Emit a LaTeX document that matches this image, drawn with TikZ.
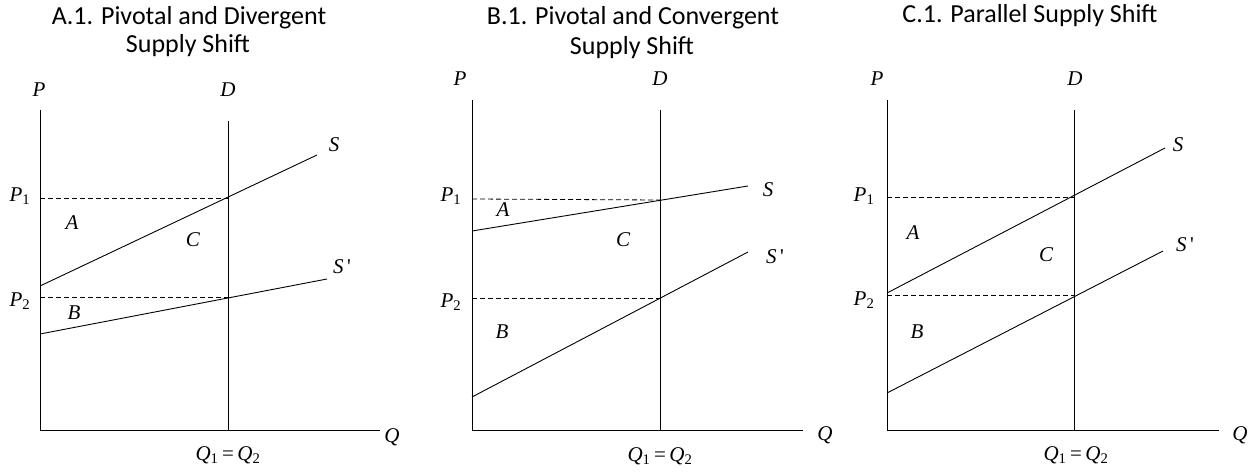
\documentclass[tikz,border=0pt]{standalone}
\usepackage{fontspec}
\setmainfont{Liberation Serif}
\newfontfamily\headfont{Carlito}
\usetikzlibrary{calc}
\newcommand{\idx}[1]{\textsubscript{\upshape #1}}
\newcommand{\prm}{\,{\upshape\textquotesingle}}
\newcommand{\qeq}{Q\idx{1}\,{\upshape =}\,Q\idx{2}}
\tikzset{
  axisline/.style={line width=0.9pt},
  curveline/.style={line width=0.9pt},
  priceline/.style={line width=0.8pt,dash pattern=on 5pt off 3pt},
  varlabel/.style={font=\fontsize{21}{21}\selectfont\itshape,inner sep=0pt},
  paneltitle/.style={font=\headfont\fontsize{26}{28}\selectfont,anchor=base,inner sep=0pt}
}

\begin{document}
\begin{tikzpicture}[x=1pt,y=-1pt]
\useasboundingbox (0,0) rectangle (1257,473);

% --- panel A: pivotal and divergent
\node[paneltitle] (Atitle) at (189,25) {A.1. Pivotal and Divergent};
\node[paneltitle] (Atitleb) at (188,53) {Supply Shift};
\coordinate (Aorig) at (40,430);
\coordinate (Aytop) at (40,110);
\coordinate (Axend) at (380,430);
\coordinate (Adtop) at (228,121);
\coordinate (Adbot) at (228,430);
\coordinate (Aeq1) at (228,198);
\coordinate (Aeq2) at (228,297);
\coordinate (Ap1) at (40,198);
\coordinate (Ap2) at (40,297);
\coordinate (As0) at (40,286);
\coordinate (As1) at (317,155);
\coordinate (Asp0) at (40,334);
\coordinate (Asp1) at (327,279);
\draw[axisline] (Aytop) -- (Aorig) -- (Axend);
\draw[axisline] (Adtop) -- (Adbot);
\draw[priceline] (Ap1) -- (Aeq1);
\draw[priceline] (Ap2) -- (Aeq2);
\draw[curveline] (As0) -- (As1);
\draw[curveline] (Asp0) -- (Asp1);
\node[varlabel] (AlabP) at (39,90) {P};
\node[varlabel] (AlabD) at (228,90) {D};
\node[varlabel] (AlabS) at (334,145) {S};
\node[varlabel] (AlabSp) at (342,267) {S\prm};
\node[varlabel] (AlabPa) at (20,196) {P\idx{1}};
\node[varlabel] (AlabPb) at (20,301) {P\idx{2}};
\node[varlabel] (AlabA) at (72,223) {A};
\node[varlabel] (AlabC) at (193,240) {C};
\node[varlabel] (AlabB) at (74,313) {B};
\node[varlabel] (AlabQ) at (392,437) {Q};
\node[varlabel] (AlabQQ) at (228,455) {\qeq};

% --- panel B: pivotal and convergent
\node[paneltitle] (Btitle) at (633,25) {B.1. Pivotal and Convergent};
\node[paneltitle] (Btitleb) at (632,55) {Supply Shift};
\coordinate (Borig) at (472,430);
\coordinate (Bytop) at (472,100);
\coordinate (Bxend) at (803,430);
\coordinate (Bdtop) at (660,110);
\coordinate (Bdbot) at (660,430);
\coordinate (Beq1) at (660,200);
\coordinate (Beq2) at (660,298);
\coordinate (Bp1) at (472,199);
\coordinate (Bp2) at (472,298);
\coordinate (Bs0) at (472,231);
\coordinate (Bs1) at (748,186);
\coordinate (Bsp0) at (472,397);
\coordinate (Bsp1) at (748,252);
\draw[axisline] (Bytop) -- (Borig) -- (Bxend);
\draw[axisline] (Bdtop) -- (Bdbot);
\draw[priceline] (Bp1) -- (Beq1);
\draw[priceline] (Bp2) -- (Beq2);
\draw[curveline] (Bs0) -- (Bs1);
\draw[curveline] (Bsp0) -- (Bsp1);
\node[varlabel] (BlabP) at (460,79) {P};
\node[varlabel] (BlabD) at (660,79) {D};
\node[varlabel] (BlabS) at (768,190) {S};
\node[varlabel] (BlabSp) at (775,257) {S\prm};
\node[varlabel] (BlabPa) at (451,196) {P\idx{1}};
\node[varlabel] (BlabPb) at (451,302) {P\idx{2}};
\node[varlabel] (BlabA) at (503,210) {A};
\node[varlabel] (BlabC) at (623,240) {C};
\node[varlabel] (BlabB) at (502,332) {B};
\node[varlabel] (BlabQ) at (825,435) {Q};
\node[varlabel] (BlabQQ) at (660,456) {\qeq};

% --- panel C: parallel
\node[paneltitle] (Ctitle) at (1030,23) {C.1. Parallel Supply Shift};
\coordinate (Corig) at (887,430);
\coordinate (Cytop) at (887,100);
\coordinate (Cxend) at (1219,430);
\coordinate (Cdtop) at (1074,110);
\coordinate (Cdbot) at (1074,430);
\coordinate (Ceq1) at (1074,197);
\coordinate (Ceq2) at (1074,295);
\coordinate (Cp1) at (887,197);
\coordinate (Cp2) at (887,295);
\coordinate (Cs0) at (887,293);
\coordinate (Cs1) at (1165,148);
\coordinate (Csp0) at (887,393);
\coordinate (Csp1) at (1163,251);
\draw[axisline] (Cytop) -- (Corig) -- (Cxend);
\draw[axisline] (Cdtop) -- (Cdbot);
\draw[priceline] (Cp1) -- (Ceq1);
\draw[priceline] (Cp2) -- (Ceq2);
\draw[curveline] (Cs0) -- (Cs1);
\draw[curveline] (Csp0) -- (Csp1);
\node[varlabel] (ClabP) at (877,79) {P};
\node[varlabel] (ClabD) at (1075,79) {D};
\node[varlabel] (ClabS) at (1178,145) {S};
\node[varlabel] (ClabSp) at (1185,245) {S\prm};
\node[varlabel] (ClabPa) at (864,196) {P\idx{1}};
\node[varlabel] (ClabPb) at (864,300) {P\idx{2}};
\node[varlabel] (ClabA) at (913,233) {A};
\node[varlabel] (ClabC) at (1046,255) {C};
\node[varlabel] (ClabB) at (917,332) {B};
\node[varlabel] (ClabQ) at (1240,435) {Q};
\node[varlabel] (ClabQQ) at (1076,455) {\qeq};
\end{tikzpicture}
\end{document}
